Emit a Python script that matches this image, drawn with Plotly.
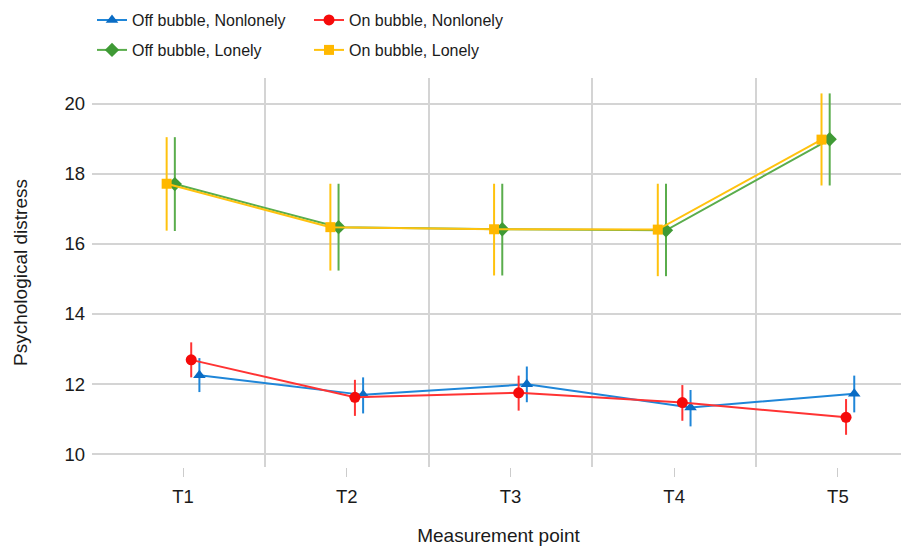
import plotly.graph_objects as go

categories = ["T1", "T2", "T3", "T4", "T5"]

off_nonlonely = [12.25, 11.69, 11.99, 11.33, 11.72]
off_nonlonely_lo = [11.77, 11.16, 11.48, 10.79, 11.19]
off_nonlonely_hi = [12.74, 12.19, 12.50, 11.83, 12.24]

on_nonlonely = [12.69, 11.62, 11.75, 11.47, 11.05]
on_nonlonely_lo = [12.19, 11.09, 11.24, 10.95, 10.55]
on_nonlonely_hi = [13.19, 12.12, 12.24, 11.97, 11.57]

off_lonely = [17.71, 16.48, 16.42, 16.39, 18.99]
off_lonely_lo = [16.37, 15.24, 15.10, 15.08, 17.67]
off_lonely_hi = [19.05, 17.72, 17.72, 17.72, 20.30]

on_lonely = [17.72, 16.48, 16.42, 16.41, 18.98]
on_lonely_lo = [16.38, 15.24, 15.10, 15.08, 17.67]
on_lonely_hi = [19.05, 17.72, 17.72, 17.72, 20.30]

series = [
    ("Off bubble, Nonlonely", off_nonlonely, off_nonlonely_lo, off_nonlonely_hi, 0.10, "#1f86d8", "#0a6cc4", "triangle-up", 11, "legend"),
    ("On bubble, Nonlonely", on_nonlonely, on_nonlonely_lo, on_nonlonely_hi, 0.05, "#ff3333", "#f50a0a", "circle", 11, "legend"),
    ("Off bubble, Lonely", off_lonely, off_lonely_lo, off_lonely_hi, -0.05, "#5aad4c", "#3f9a35", "diamond", 11, "legend2"),
    ("On bubble, Lonely", on_lonely, on_lonely_lo, on_lonely_hi, -0.10, "#ffc20e", "#ffb800", "square", 10, "legend2"),
]

fig = go.Figure()
for name, vals, lo, hi, off, lcol, mcol, sym, msize, leg in series:
    xs = [i + 1 + off for i in range(len(categories))]
    fig.add_trace(go.Scatter(
        x=xs, y=vals, name=name, mode="lines+markers",
        line=dict(color=lcol, width=2),
        marker=dict(color=mcol, symbol=sym, size=msize),
        error_y=dict(type="data", symmetric=False,
                     array=[h - v for h, v in zip(hi, vals)],
                     arrayminus=[v - l for v, l in zip(vals, lo)],
                     color=lcol, thickness=2, width=0),
        legend=leg,
    ))

fam = "Liberation Sans, Arial, Helvetica, sans-serif"
font = dict(family=fam, size=16, color="#1a1a1a")
tickfont = dict(family=fam, size=18.5, color="#1a1a1a")
titlefont = dict(family=fam, size=19, color="#1a1a1a")
legcommon = dict(orientation="h", x=0.0, xanchor="left", yanchor="middle", yref="container",
                 entrywidth=172, entrywidthmode="pixels", font=font,
                 bgcolor="rgba(0,0,0,0)", tracegroupgap=0, itemwidth=30)

fig.update_layout(
    width=909, height=549,
    margin=dict(l=84, r=12, t=70, b=90, autoexpand=False),
    plot_bgcolor="white", paper_bgcolor="white",
    font=font,
    legend=dict(y=0.978, **legcommon),
    legend2=dict(y=0.9235, **legcommon),
    xaxis=dict(
        range=[0.444, 5.41],
        tickmode="array", tickvals=[1, 2, 3, 4, 5], ticktext=categories,
        ticks="outside", ticklen=9, tickcolor="#cccccc", tickwidth=1,
        showgrid=False, zeroline=False, showline=False,
        ticklabelstandoff=4, tickfont=tickfont,
        minor=dict(tickmode="array", tickvals=[1.5, 2.5, 3.5, 4.5], showgrid=True,
                   gridcolor="#d4d4d4", gridwidth=2, ticks=""),
        title=dict(text="Measurement point", standoff=22, font=titlefont),
    ),
    yaxis=dict(
        range=[9.63, 20.74],
        tickmode="array", tickvals=[10, 12, 14, 16, 18, 20],
        showgrid=True, gridcolor="#d4d4d4", gridwidth=2,
        zeroline=False, showline=False, ticks="",
        ticklabelstandoff=6, tickfont=tickfont,
        title=dict(text="Psychological distress", standoff=31, font=titlefont),
    ),
)

fig.write_html("out.html")
